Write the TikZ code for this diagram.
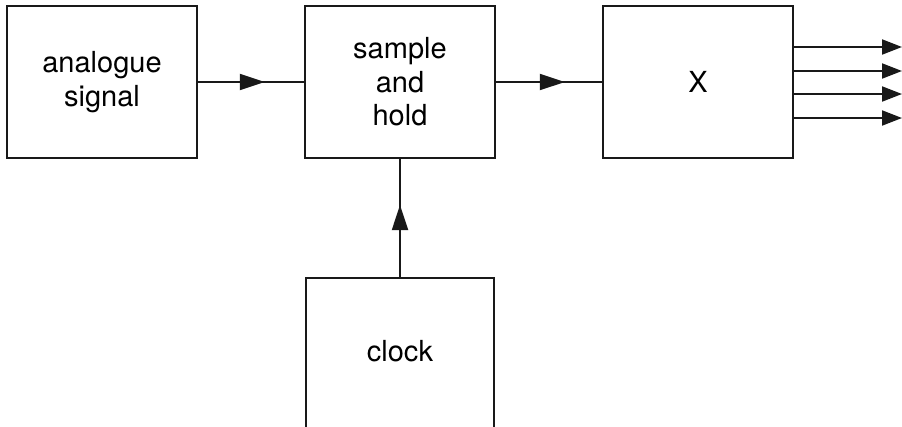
\documentclass[tikz,border=0pt]{standalone}
\usepackage{fontspec}
\setmainfont{TeX Gyre Heros}
\usetikzlibrary{arrows.meta,decorations.markings}
\begin{document}
\begin{tikzpicture}[x=1pt,y=-1pt,
  blockbox/.style={draw=black!90, line width=2.2pt, minimum width=190pt, minimum height=152pt,
    inner sep=0pt, align=center, font=\fontsize{29}{33.5}\selectfont},
  conn/.style={line width=2pt, draw=black!90},
  midarrow/.style={postaction={decorate}, decoration={markings,
    mark=at position #1 with {\arrow{Triangle[length=25pt,width=16pt]}}}},
  outarrow/.style={line width=2pt, draw=black!90, -{Triangle[length=20pt,width=15pt]}}
]
\useasboundingbox (0,0) rectangle (902,426);
\begin{scope}
\clip (0,0) rectangle (902,426);
\node[blockbox] (sig) at (102,82) {analogue\\signal};
\node[blockbox] (sh) at (400,82) {sample\\and\\hold};
\node[blockbox] (x) at (698,82) {X};
\node[blockbox, minimum width=188pt, minimum height=152pt, anchor=north] (clk) at (400,277) {\raisebox{6pt}{clock}};

\draw[conn, midarrow=0.63] (sig.east) -- (sh.west);
\draw[conn, midarrow=0.65] (sh.east) -- (x.west);
\draw[conn, midarrow=0.61] (clk.north) -- (sh.south);

\coordinate (o1) at (902,47);
\coordinate (o2) at (902,71);
\coordinate (o3) at (902,94);
\coordinate (o4) at (902,118);
\draw[outarrow] (x.east |- o1) -- (o1);
\draw[outarrow] (x.east |- o2) -- (o2);
\draw[outarrow] (x.east |- o3) -- (o3);
\draw[outarrow] (x.east |- o4) -- (o4);
\end{scope}
\end{tikzpicture}
\end{document}
